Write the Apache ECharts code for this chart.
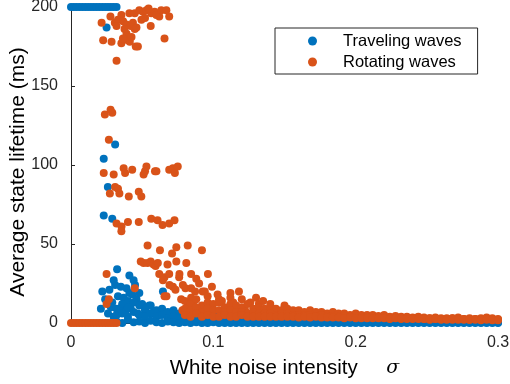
<!DOCTYPE html>
<html>
<head>
<meta charset="utf-8">
<script src="https://cdn.jsdelivr.net/npm/echarts@6/dist/echarts.min.js"></script>
<style>
  html, body { margin: 0; padding: 0; background: #fff; }
  #chart { width: 510px; height: 384px; }
</style>
</head>
<body>
<div id="chart"></div>
<script>
// sigma values of the plateau at small noise
const lowSigma = [0, 0.002, 0.004, 0.006, 0.008, 0.010, 0.012, 0.014, 0.016, 0.018,
  0.020, 0.022, 0.024, 0.026, 0.028, 0.030, 0.032];
const travelTopLife = [200, 200, 200, 200, 200, 200, 200, 200, 200, 200,
  200, 200, 200, 200, 200, 200, 200];
const rotZeroLife = [0, 0, 0, 0, 0, 0, 0, 0, 0, 0,
  0, 0, 0, 0, 0, 0, 0];

// sigma values of the dense band near zero
const bandSigma = [0.032, 0.036, 0.040, 0.044, 0.048, 0.052, 0.056, 0.060, 0.064, 0.068,
  0.072, 0.076, 0.080, 0.084, 0.088, 0.092, 0.096, 0.100, 0.104, 0.108,
  0.112, 0.116, 0.120, 0.124, 0.128, 0.132, 0.136, 0.140, 0.144, 0.148,
  0.152, 0.156, 0.160, 0.164, 0.168, 0.172, 0.176, 0.180, 0.184, 0.188,
  0.192, 0.196, 0.200, 0.204, 0.208, 0.212, 0.216, 0.220, 0.224, 0.228,
  0.232, 0.236, 0.240, 0.244, 0.248, 0.252, 0.256, 0.260, 0.264, 0.268,
  0.272, 0.276, 0.280, 0.284, 0.288, 0.292, 0.296, 0.300];

const travelHi = [9, 12, 10, 13, 11, 9, 11, 8, 9, 7,
  8, 6, 7, 5, 6, 5, 4, 5, 4, 3,
  4, 3, 3, 4, 3, 2, 3, 2, 3, 2,
  2, 3, 2, 2, 2, 3, 2, 2, 2, 1.5,
  2, 2, 1.5, 2, 1.5, 1.5, 2, 1.5, 1.5, 2,
  1.5, 1.5, 1, 1.5, 1.5, 1, 1.5, 1, 1.5, 1,
  1, 1.5, 1, 1, 1.5, 1, 1, 1];
const travelMid = [5, 6, 4, 7, 5, 4, 6, 4, 5, 3,
  4, 3, 3, 2, 3, 2, 2, 2.5, 2, 1.5,
  2, 1.5, 1.5, 2, 1.5, 1, 1.5, 1, 1, 1,
  1, 1, 1, 0.5, 1, 1, 0.5, 1, 1, 0.5,
  1, 0.5, 1, 0.5, 0.5, 1, 0.5, 0.5, 0.5, 1,
  0.5, 0.5, 0.5, 0.5, 1, 0.5, 0.5, 0.5, 0.5, 0.5,
  0.5, 0.5, 0.5, 0.5, 0.5, 0.5, 0.5, 0.5];
const travelLo = [1, 0, 2, 0.5, 1, 0, 1.5, 0.5, 0, 1,
  0.5, 0, 0.5, 0, 0.5, 0, 0, 0.5, 0, 0,
  0, 0, 0, 0, 0, 0, 0, 0, 0, 0,
  0, 0, 0, 0, 0, 0, 0, 0, 0, 0,
  0, 0, 0, 0, 0, 0, 0, 0, 0, 0,
  0, 0, 0, 0, 0, 0, 0, 0, 0, 0,
  0, 0, 0, 0, 0, 0, 0, 0];

const rotHi = [null, null, null, null, null, null, null, null, null, null,
  null, null, 14, 12, 15, 11, 13, 12, 13, 10,
  12, 11, 10, 12, 9, 10, 9, 10, 9, 8,
  9, 8, 8, 7, 8, 7, 7, 6, 7, 6,
  6, 5, 6, 5, 5, 5, 4.5, 5, 4, 4.5,
  4, 4, 3.5, 4, 3.5, 3, 3.5, 3, 3, 3,
  3.5, 2.5, 3, 2.5, 3, 3.5, 3, 2.5];
const rotMid = [null, null, null, null, null, null, null, null, null, null,
  null, null, 9, 8, 10, 7, 9, 8, 8, 7,
  8, 7, 7, 6, 7, 6, 6, 6, 5, 6,
  6, 5, 5, 5, 5, 4.5, 5, 4.5, 4.5, 4,
  4.5, 4, 4, 4, 3.5, 4, 3.5, 3.5, 3, 3.5,
  3, 3, 3, 3, 2.5, 3, 2.5, 2.5, 2.5, 3,
  2.5, 2.5, 2, 2.5, 2, 2.5, 2, 2];
const rotLo = [null, null, null, null, null, null, null, null, null, null,
  null, null, 5, 4, 6, 4, 5, 4, 4, 5,
  4, 4, 5, 4, 4, 4, 4, 4, 4, 4,
  4, 4, 3.5, 4, 3.5, 4, 3.5, 3.5, 3.5, 3.5,
  3, 3.5, 3, 3, 3, 3, 3, 3, 2.5, 3,
  2.5, 2.5, 2.5, 2.5, 2.5, 2, 2.5, 2, 2, 2,
  2, 2, 2, 2, 1.8, 2, 1.8, 1.8];

// scattered single runs [sigma, lifetime]
const travelScatter = [
  [0.025, 187], [0.031, 113], [0.023, 104], [0.0259, 86], [0.023, 68], [0.029, 66],
  [0.0324, 34], [0.022, 20], [0.027, 21], [0.035, 23], [0.039, 22], [0.045, 24],
  [0.041, 19], [0.033, 17], [0.021, 9], [0.029, 13], [0.036, 11], [0.048, 19],
  [0.026, 6], [0.0646, 20], [0.055, 11], [0.024, 15], [0.030, 27], [0.031, 24],
  [0.037, 16], [0.040, 14], [0.043, 18], [0.046, 15], [0.050, 12], [0.028, 10],
  [0.044, 27], [0.041, 30], [0.030, 4], [0.034, 8], [0.038, 7], [0.042, 9],
  [0.047, 6], [0.052, 8], [0.058, 7], [0.062, 5], [0.068, 6], [0.074, 4],
  [0.080, 3], [0.092, 4], [0.098, 6]
];
const rotScatter = [
  [0.0215, 190], [0.0277, 194], [0.0308, 190], [0.033, 192], [0.0354, 195], [0.0366, 191],
  [0.039, 189], [0.042, 188], [0.0448, 186], [0.041, 196], [0.0448, 196], [0.048, 198],
  [0.0506, 197], [0.053, 198], [0.0564, 196], [0.0587, 197], [0.060, 195], [0.062, 194],
  [0.0634, 198], [0.067, 198], [0.069, 194], [0.056, 188], [0.0657, 180], [0.039, 183],
  [0.032, 188], [0.0226, 179], [0.0285, 178], [0.0354, 177], [0.040, 179], [0.0413, 178],
  [0.0455, 175], [0.047, 175], [0.032, 166], [0.0376, 186], [0.0435, 190], [0.046, 187],
  [0.0365, 180], [0.0425, 181], [0.0545, 199], [0.0495, 192], [0.052, 193],
  [0.0238, 132], [0.029, 133], [0.0278, 135], [0.0266, 116],
  [0.023, 95], [0.030, 94], [0.037, 98], [0.038, 95], [0.043, 97], [0.051, 94],
  [0.052, 96], [0.053, 99], [0.059, 96], [0.060, 96], [0.069, 97], [0.0716, 98],
  [0.073, 95], [0.075, 99],
  [0.0273, 82], [0.031, 86], [0.033, 85], [0.034, 82], [0.0406, 80], [0.0476, 83], [0.0494, 80],
  [0.032, 63], [0.0355, 61], [0.040, 64], [0.0476, 64], [0.0564, 66], [0.0608, 65],
  [0.0643, 62], [0.069, 63], [0.0727, 65], [0.0354, 58],
  [0.0538, 49], [0.0625, 46], [0.074, 48], [0.082, 49], [0.071, 44], [0.092, 46],
  [0.049, 39], [0.051, 38], [0.0538, 38], [0.056, 39], [0.058, 37], [0.0594, 36],
  [0.061, 38], [0.0678, 37], [0.074, 39], [0.081, 38],
  [0.025, 31], [0.062, 31], [0.0657, 29], [0.069, 31], [0.076, 29], [0.0762, 31],
  [0.0844, 31], [0.088, 28], [0.0646, 27], [0.090, 25], [0.0962, 31],
  [0.0448, 22], [0.0692, 24], [0.0716, 23], [0.0734, 21], [0.0786, 24], [0.0804, 22],
  [0.0844, 22], [0.0872, 20], [0.0925, 20], [0.094, 20], [0.099, 23], [0.112, 19],
  [0.118, 20], [0.130, 16],
  [0.025, 12], [0.0266, 15], [0.0657, 17], [0.0671, 17], [0.0774, 15], [0.0844, 16],
  [0.096, 17], [0.104, 15],
  [0.0783, 8], [0.090, 8], [0.0951, 8], [0.1084, 9], [0.1153, 10], [0.1223, 8],
  [0.103, 18], [0.106, 14], [0.112, 16], [0.114, 13], [0.120, 15], [0.126, 13],
  [0.132, 12], [0.140, 12], [0.150, 11], [0.135, 14], [0.086, 11], [0.082, 13]
];

const pairs = (xs, ys) => xs.map((x, i) => [x, ys[i]]).filter(p => p[1] != null);

const travelData = pairs(lowSigma, travelTopLife)
  .concat(travelScatter)
  .concat(pairs(bandSigma, travelHi), pairs(bandSigma, travelMid), pairs(bandSigma, travelLo));
const rotData = pairs(lowSigma, rotZeroLife)
  .concat(rotScatter)
  .concat(pairs(bandSigma, rotHi), pairs(bandSigma, rotMid), pairs(bandSigma, rotLo));

const FONT = '"Liberation Sans", Arial, Helvetica, sans-serif';
const INK = '#262626';

const chart = echarts.init(document.getElementById('chart'));

const option = {
  animation: false,
  backgroundColor: '#fff',
  textStyle: { fontFamily: FONT },
  grid: { left: 71, right: 12, top: 7, bottom: 61, containLabel: false, outerBoundsMode: 'none' },
  // y axis title, placed by hand so it sits where the reference has it
  graphic: [{
    type: 'text',
    x: 18,
    y: 172,
    rotation: Math.PI / 2,
    style: {
      text: 'Average state lifetime (ms)',
      font: '21px "Liberation Sans", Arial, sans-serif',
      fill: '#000',
      align: 'center',
      verticalAlign: 'middle'
    }
  }],
  legend: {
    orient: 'vertical',
    left: 275,
    top: 28,
    padding: [4, 16, 3, 33],
    itemGap: 3,
    itemWidth: 9,
    itemHeight: 9,
    icon: 'circle',
    borderColor: INK,
    borderWidth: 1,
    backgroundColor: '#fff',
    textStyle: { fontSize: 16.5, color: '#000', fontFamily: FONT, lineHeight: 18, padding: [0, 0, 0, 21] },
    data: ['Traveling waves', 'Rotating waves']
  },
  xAxis: {
    type: 'value',
    min: 0,
    max: 0.3,
    interval: 0.1,
    name: 'White noise intensity     {s|σ}',
    nameLocation: 'middle',
    nameGap: 35,
    nameTextStyle: {
      fontSize: 20.5, color: '#000', fontFamily: FONT,
      rich: { s: { fontSize: 19, fontStyle: 'italic', fontFamily: '"DejaVu Serif", serif', color: '#000' } }
    },
    axisLine: { show: true, lineStyle: { color: INK, width: 1 } },
    axisTick: { show: true, inside: true, length: 4, lineStyle: { color: INK } },
    axisLabel: { fontSize: 16, color: INK, margin: 12, fontFamily: FONT },
    splitLine: { show: false }
  },
  yAxis: {
    type: 'value',
    min: 0,
    max: 200,
    interval: 50,
    axisLine: { show: true, lineStyle: { color: INK, width: 1 } },
    axisTick: { show: true, inside: true, length: 4, lineStyle: { color: INK } },
    axisLabel: { fontSize: 16, color: INK, margin: 13, fontFamily: FONT },
    splitLine: { show: false }
  },
  series: [
    {
      name: 'Traveling waves',
      type: 'scatter',
      symbol: 'circle',
      symbolSize: 8,
      clip: false,
      itemStyle: { color: '#0072BD', opacity: 1 },
      data: travelData
    },
    {
      name: 'Rotating waves',
      type: 'scatter',
      symbol: 'circle',
      symbolSize: 8,
      clip: false,
      itemStyle: { color: '#D95319', opacity: 1 },
      data: rotData
    }
  ]
};

chart.setOption(option);
</script>
</body>
</html>
